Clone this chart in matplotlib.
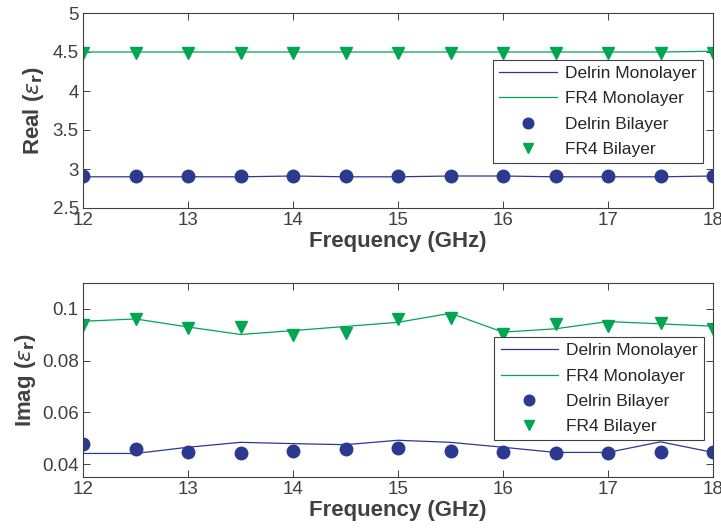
#!/usr/bin/env python3
"""Real and imaginary permittivity of Delrin and FR4, monolayer vs bilayer."""

import matplotlib

matplotlib.use("Agg")
import matplotlib.pyplot as plt

freq = [12, 12.5, 13, 13.5, 14, 14.5, 15, 15.5, 16, 16.5, 17, 17.5, 18]

real_delrin_mono = [2.90, 2.90, 2.90, 2.90, 2.91, 2.90, 2.90, 2.91, 2.91, 2.90, 2.90, 2.90, 2.91]
real_fr4_mono = [4.50, 4.50, 4.50, 4.50, 4.50, 4.50, 4.50, 4.50, 4.50, 4.50, 4.50, 4.50, 4.51]
real_delrin_bi = [2.91, 2.91, 2.91, 2.91, 2.91, 2.91, 2.91, 2.91, 2.91, 2.91, 2.91, 2.91, 2.91]
real_fr4_bi = [4.49, 4.49, 4.49, 4.49, 4.49, 4.49, 4.49, 4.49, 4.49, 4.49, 4.49, 4.49, 4.49]

imag_delrin_mono = [0.0441, 0.0441, 0.0465, 0.0484, 0.0479, 0.0475, 0.0492,
                    0.0484, 0.0465, 0.0445, 0.0445, 0.0486, 0.0445]
imag_fr4_mono = [0.0952, 0.0961, 0.0930, 0.0901, 0.0916, 0.0932, 0.0948,
                 0.0983, 0.0910, 0.0923, 0.0951, 0.0942, 0.0933]
imag_delrin_bi = [0.0477, 0.0457, 0.0446, 0.0444, 0.0450, 0.0458, 0.0461,
                  0.0452, 0.0445, 0.0441, 0.0441, 0.0448, 0.0445]
imag_fr4_bi = [0.0937, 0.0961, 0.0926, 0.0930, 0.0900, 0.0908, 0.0959,
               0.0964, 0.0901, 0.0943, 0.0933, 0.0946, 0.0924]

BLUE = "#2B3990"
GREEN = "#00A651"
AX = "#404040"

plt.rcParams.update({
    "font.family": ["Liberation Sans", "DejaVu Sans"],
    "mathtext.fontset": "dejavusans",
    "axes.edgecolor": AX,
    "xtick.color": AX,
    "ytick.color": AX,
    "xtick.labelcolor": AX,
    "ytick.labelcolor": AX,
    "xtick.direction": "in",
    "ytick.direction": "in",
    "xtick.top": True,
    "ytick.right": True,
    "axes.linewidth": 0.8,
})

fig = plt.figure(figsize=(7.21, 5.29), dpi=100)
ax1 = fig.add_axes([83 / 721, 321 / 529, 630 / 721, 195 / 529])
ax2 = fig.add_axes([83 / 721, 52 / 529, 630 / 721, 194 / 529])


def panel(ax, dm, fm, db, fb):
    ax.plot(freq, dm, color=BLUE, lw=0.9, label="Delrin Monolayer")
    ax.plot(freq, fm, color=GREEN, lw=0.9, label="FR4 Monolayer")
    ax.plot(freq, db, "o", color=BLUE, ms=9, ls="none", label="Delrin Bilayer")
    ax.plot(freq, fb, "v", color=GREEN, ms=9, ls="none", label="FR4 Bilayer")
    ax.set_xlim(12, 18)
    ax.set_xticks(range(12, 19))
    ax.tick_params(labelsize=13.5, length=5, width=0.7, pad=3)
    ax.set_xlabel("Frequency (GHz)", fontsize=16, fontweight="bold", color=AX, labelpad=1)


panel(ax1, real_delrin_mono, real_fr4_mono, real_delrin_bi, real_fr4_bi)
ax1.set_ylim(2.5, 5)
ax1.set_yticks([2.5, 3, 3.5, 4, 4.5, 5])
ax1.set_yticklabels(["2.5", "3", "3.5", "4", "4.5", "5"])
ax1.set_ylabel(r"Real ($\varepsilon_\mathbf{r}$)", fontsize=16, fontweight="bold", color=AX, labelpad=5)

panel(ax2, imag_delrin_mono, imag_fr4_mono, imag_delrin_bi, imag_fr4_bi)
ax2.set_ylim(0.035, 0.11)
ax2.set_yticks([0.04, 0.06, 0.08, 0.1])
ax2.set_yticklabels(["0.04", "0.06", "0.08", "0.1"])
ax2.set_ylabel(r"Imag ($\varepsilon_\mathbf{r}$)", fontsize=16, fontweight="bold", color=AX, labelpad=3)

for ax, anchor in ((ax1, (0.984, 0.231)), (ax2, (0.986, 0.19))):
    leg = ax.legend(loc="lower right", bbox_to_anchor=anchor, borderaxespad=0,
                    fontsize=12.5, fancybox=False, edgecolor=AX, framealpha=1,
                    handlelength=3.3, handletextpad=0.5, labelspacing=0.58,
                    borderpad=0.35, markerscale=0.85)
    leg.get_frame().set_linewidth(0.8)
    for t in leg.get_texts():
        t.set_color("#262626")

fig.savefig("out.png", dpi=100)
